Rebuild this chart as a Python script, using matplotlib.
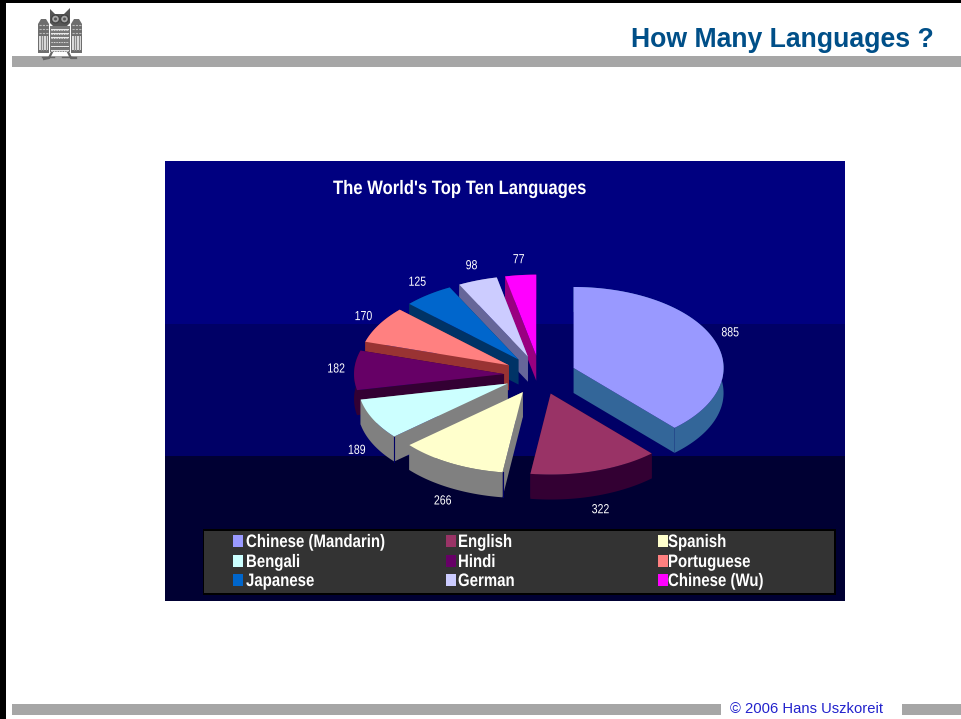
import numpy as np
import matplotlib
matplotlib.use("Agg")
import matplotlib.pyplot as plt
from matplotlib.patches import Polygon, Rectangle, Ellipse
from matplotlib.patheffects import AbstractPathEffect
from matplotlib.transforms import Affine2D

# =============================================
#                    DATOS
# =============================================

languages = ["Chinese (Mandarin)", "English", "Spanish", "Bengali", "Hindi",
             "Portuguese", "Japanese", "German", "Chinese (Wu)"]
speakers = [885, 322, 266, 189, 182, 170, 125, 98, 77]
top_colors = ["#9999FF", "#993366", "#FFFFCC", "#CCFFFF", "#660066",
              "#FF8080", "#0066CC", "#CCCCFF", "#FF00FF"]
side_colors = ["#336699", "#330033", "#808080", "#808080", "#330033",
               "#993333", "#003366", "#666699", "#990080"]

# Geometría de la torta (en píxeles)
cx, cy = 540, 375
rx, ry = 150, 81
explode = 36
depth = 25

fig = plt.figure(figsize=(9.62, 7.19), dpi=100, facecolor="white")
ax = fig.add_axes([0, 0, 1, 1])
ax.set_xlim(0, 962)
ax.set_ylim(719, 0)
ax.axis("off")

sans = ["Liberation Sans", "DejaVu Sans"]


# Angosta el texto en horizontal, alrededor del origen o del centro
class Condense(AbstractPathEffect):
    def __init__(self, sx, center=False):
        super().__init__()
        self.sx = sx
        self.center = center

    def draw_path(self, renderer, gc, tpath, affine, rgbFace=None):
        c = 0
        if self.center:
            ext = tpath.get_extents()
            c = (ext.x0 + ext.x1) / 2
        squeeze = Affine2D().translate(-c, 0).scale(self.sx, 1).translate(c, 0)
        renderer.draw_path(gc, tpath, squeeze + affine, rgbFace)


def rect(x0, y0, x1, y1, color, z=1):
    ax.add_patch(Rectangle((x0, y0), x1 - x0, y1 - y0, fc=color, ec="none", zorder=z))


# =============================================
#                 MARCO DE LA LÁMINA
# =============================================

rect(0, 0, 962, 2.5, "black")
rect(0, 0, 6, 719, "black")
rect(12, 56, 962, 67, "#A6A6A6")
rect(12, 704, 721, 715, "#A6A6A6")
rect(902, 704, 962, 715, "#A6A6A6")

ax.text(934, 47, "How Many Languages ?", ha="right", va="baseline", color="#004F88",
        fontsize=19.15, fontweight="bold", family=sans)
ax.text(730, 713, "\u00a9 2006 Hans Uszkoreit", ha="left", va="baseline", color="#2222CC",
        fontsize=10.65, family=sans)


# Búho del logo
def owl():
    z = 5
    g1 = "#666666"
    ax.add_patch(Polygon([(50, 23), (50, 9), (55, 14), (64, 14), (70, 8), (70, 23), (66, 27), (54, 27)],
                         fc="#555555", ec="none", zorder=z))
    for ex in (55.5, 64.5):
        ax.add_patch(Ellipse((ex, 19), 8, 8, fc="#A8A8A8", ec="#444444", lw=1, zorder=z + 1))
        ax.add_patch(Ellipse((ex, 19), 3, 3, fc="#555555", ec="none", zorder=z + 2))
    for x0, x1 in ((38, 49), (71, 82)):
        ax.add_patch(Polygon([(x0, 53), (x0, 24), (x0 + 3, 19), (x1 - 3, 19), (x1, 24), (x1, 53)],
                             fc="#6E6E6E", ec="none", zorder=z))
        rect(x0 + 1, 36, x1 - 1, 50, "#DDDDDD", z + 1)
        for sx in np.arange(x0 + 3, x1 - 1, 2.5):
            ax.plot([sx, sx], [36, 50], color="#888888", lw=0.8, zorder=z + 2)
        for sy in (25, 29, 33):
            ax.plot([x0 + 1, x1 - 1], [sy, sy], color="#BBBBBB", lw=0.8, ls=(0, (2, 1)), zorder=z + 2)
    rect(50, 26, 70, 52, "#777777", z)
    for sy in np.arange(29, 52, 4.2):
        rect(51, sy, 69, sy + 1.6, "#E8E8E8", z + 1)
        ax.plot([51, 69], [sy + 0.8, sy + 0.8], color=g1, lw=0.6, ls=(0, (1, 1)), zorder=z + 2)
    ax.plot([52, 49, 44], [52, 58, 59], color=g1, lw=1.6, zorder=z)
    ax.plot([68, 71, 76], [52, 58, 58], color=g1, lw=1.6, zorder=z)
    ax.plot([62, 72], [57, 57], color=g1, lw=1, zorder=z)
    ax.plot([42, 54], [57, 57], color=g1, lw=1, zorder=z)


owl()

# =============================================
#                  PANEL DEL GRÁFICO
# =============================================

rect(165, 161, 845, 324, "#000080", 2)
rect(165, 324, 845, 456, "#000066", 2)
rect(165, 456, 845, 601, "#000033", 2)

ax.text(333, 194, "The World's Top Ten Languages", ha="left", va="baseline", color="white",
        fontsize=14, fontweight="bold", family=sans, zorder=20,
        path_effects=[Condense(0.855)])

# Ángulos en sentido horario desde las 12
values = np.array(speakers, dtype=float)
edges = np.concatenate(([0], np.cumsum(values))) / values.sum() * 2 * np.pi
mids = (edges[:-1] + edges[1:]) / 2
apex_x = cx + explode * np.sin(mids)
apex_y = cy - explode * (ry / rx) * np.cos(mids)

# Se pinta de atrás hacia adelante
order = np.argsort(apex_y)
for n, i in enumerate(order):
    t = np.linspace(edges[i], edges[i + 1], 80)
    ox = apex_x[i] + rx * np.sin(t)
    oy = apex_y[i] - ry * np.cos(t)
    z = 3 + n * 0.1

    # Caras laterales: borde de entrada, borde de salida y borde curvo
    for a, b in [((apex_x[i], apex_y[i]), (ox[0], oy[0])),
                 ((apex_x[i], apex_y[i]), (ox[-1], oy[-1]))]:
        ax.add_patch(Polygon([a, b, (b[0], b[1] + depth), (a[0], a[1] + depth)],
                             fc=side_colors[i], ec="none", zorder=z))
    rim = np.column_stack((np.r_[ox, ox[::-1]], np.r_[oy, oy[::-1] + depth]))
    ax.add_patch(Polygon(rim, fc=side_colors[i], ec="none", zorder=z))

    # Arista oscura entre las caras grises
    if side_colors[i] == "#808080":
        ax.plot([ox[0], ox[0]], [oy[0], oy[0] + depth], color="#000066", lw=0.8, zorder=z + 0.02)

    top = np.column_stack((np.r_[apex_x[i], ox], np.r_[apex_y[i], oy]))
    ax.add_patch(Polygon(top, fc=top_colors[i], ec="none", zorder=z + 0.05))

    # Etiqueta de valor
    lx = apex_x[i] + (rx + 18) * np.sin(mids[i])
    ly = apex_y[i] - (ry + 15) * np.cos(mids[i])
    if np.cos(mids[i]) < -0.2:
        ly += depth
    ax.text(lx, ly, str(speakers[i]), ha="center", va="center", color="white",
            fontsize=9.5, family=sans, zorder=20, path_effects=[Condense(0.8, center=True)])

# Leyenda
rect(203, 529, 836, 594.5, "black", 10)
rect(204.5, 530.5, 834.5, 593, "#333333", 11)
swatch_x = [233, 446, 658]
label_x = [246, 458, 668]
row_y = [541, 561, 580]
for k, name in enumerate(languages):
    y = row_y[k // 3]
    rect(swatch_x[k % 3], y - 6, swatch_x[k % 3] + 10, y + 6, top_colors[k], 12)
    ax.text(label_x[k % 3], y + 6, name, ha="left", va="baseline", color="white", fontsize=13,
            fontweight="bold", family=sans, zorder=13, path_effects=[Condense(0.83)])

fig.savefig("out.png", dpi=100, facecolor="white")
